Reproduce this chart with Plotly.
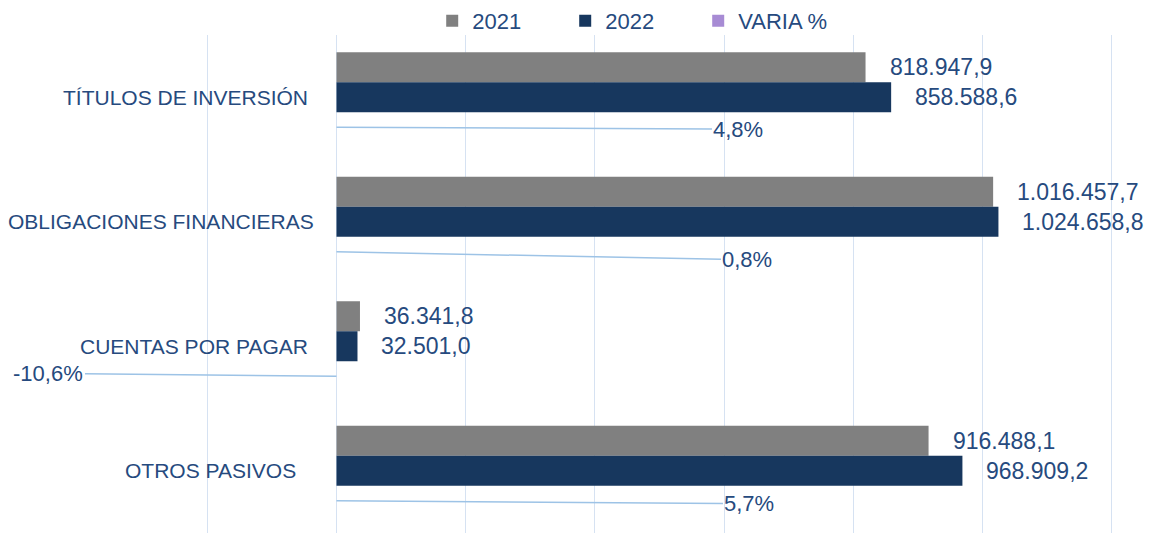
import plotly.graph_objects as go

categories = ["TÍTULOS DE INVERSIÓN", "OBLIGACIONES FINANCIERAS", "CUENTAS POR PAGAR", "OTROS PASIVOS"]
values_2021 = [818947.9, 1016457.7, 36341.8, 916488.1]
values_2022 = [858588.6, 1024658.8, 32501.0, 968909.2]
varia_pct = [4.8, 0.8, -10.6, 5.7]
series_names = ["2021", "2022", "VARIA %"]
x_ticks = [-200000, 0, 200000, 400000, 600000, 800000, 1000000, 1200000]

# style
TXT = "#264a7e"
C2021 = "#808080"
C2022 = "#17375E"
CVAR = "#A78BD4"
GRID = "#D6E2F2"
LEAD = "#9DC3E6"
FONT = "Liberation Sans, Arial, sans-serif"
BARGAP = 0.277
bw = (1 - BARGAP) / 3
offsets = [-bw, 0.0, bw]
cat_label_shift = [-26, -20, -26, -38]
pct_label_offsets = [(402, 2), (411, 8), (-288, -3), (413, 3)]

def fmt_num(v):
    s = f"{v:,.1f}"
    return s.replace(",", "X").replace(".", ",").replace("X", ".")

def fmt_pct(p):
    return f"{p:.1f}%".replace(".", ",")

varia_frac = [p / 100 for p in varia_pct]

fig = go.Figure()
fig.add_trace(go.Bar(y=categories, x=values_2021, name=series_names[0], orientation="h",
                     marker=dict(color=C2021, line=dict(width=0))))
fig.add_trace(go.Bar(y=categories, x=values_2022, name=series_names[1], orientation="h",
                     marker=dict(color=C2022, line=dict(width=0))))
fig.add_trace(go.Bar(y=categories, x=varia_frac, name=series_names[2], orientation="h",
                     marker=dict(color=CVAR, line=dict(width=0))))

ann = []
for i, cat in enumerate(categories):
    ann.append(dict(x=0, y=i, xref="x", yref="y", text=cat, showarrow=False,
                    xanchor="right", yanchor="middle", xshift=cat_label_shift[i],
                    font=dict(family=FONT, size=21, color=TXT)))
    for vals, off in ((values_2021, offsets[0]), (values_2022, offsets[1])):
        ann.append(dict(x=vals[i], y=i + off, xref="x", yref="y", text=fmt_num(vals[i]),
                        showarrow=False, xanchor="left", yanchor="middle", xshift=22,
                        font=dict(family=FONT, size=23, color=TXT)))
    ax, ay = pct_label_offsets[i]
    ann.append(dict(x=varia_frac[i], y=i + offsets[2], xref="x", yref="y", text=fmt_pct(varia_pct[i]),
                    showarrow=True, arrowhead=0, arrowwidth=1.5, arrowcolor=LEAD,
                    ax=ax, ay=ay, font=dict(family=FONT, size=22, color=TXT)))

# page body adds an 8px offset; margins compensate for it
fig.update_layout(
    width=1156, height=533,
    margin=dict(l=198, r=51, t=27, b=8, autoexpand=False),
    paper_bgcolor="white", plot_bgcolor="white",
    barmode="group", bargap=BARGAP, bargroupgap=0,
    font=dict(family=FONT, color=TXT),
    separators=",.",
    showlegend=True,
    legend=dict(orientation="h", x=0.2494, xanchor="left", y=1.028, yanchor="middle",
                font=dict(family=FONT, size=22, color=TXT), traceorder="normal",
                entrywidth=88, entrywidthmode="pixels", itemwidth=30,
                bgcolor="rgba(0,0,0,0)"),
    annotations=ann,
)
fig.update_xaxes(range=[-202000, 1202000], tickvals=x_ticks, showticklabels=False,
                 showgrid=True, gridcolor=GRID, gridwidth=1.2,
                 zeroline=True, zerolinecolor=GRID, zerolinewidth=1.2, showline=False, ticks="")
fig.update_yaxes(autorange="reversed", showticklabels=False, showgrid=False, zeroline=False,
                 showline=False, ticks="")

fig.write_html("out.html")
